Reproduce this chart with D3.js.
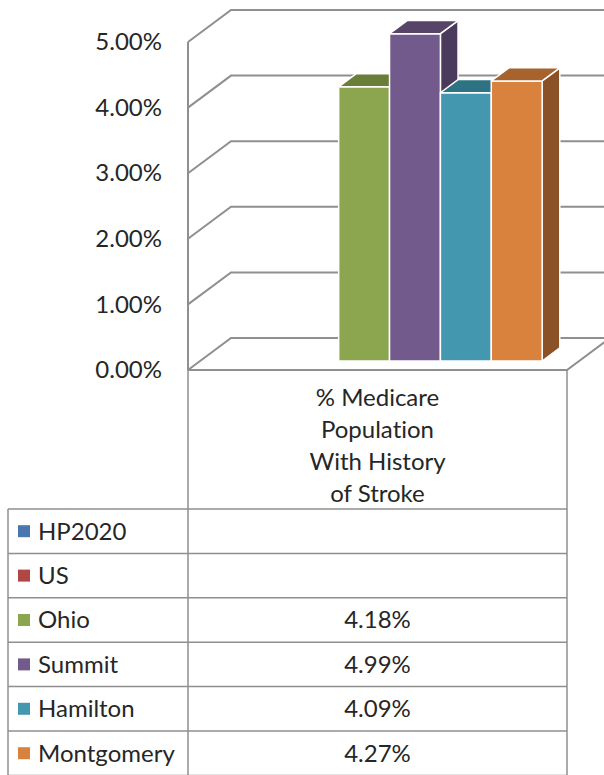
<!DOCTYPE html>
<html>
<head>
<meta charset="utf-8">
<script src="https://cdn.jsdelivr.net/npm/d3@7"></script>
<style>
  body { margin: 0; background: #fff; }
  svg { display: block; font-family: Lato, "Open Sans", sans-serif; font-variant-ligatures: none; }
  text { fill: #262626; }
</style>
</head>
<body>
<div id="chart"></div>
<script>
// Values
var category = '% Medicare Population With History of Stroke';
var categoryLines = ['% Medicare', 'Population', 'With History', 'of Stroke'];
var series = ['HP2020', 'US', 'Ohio', 'Summit', 'Hamilton', 'Montgomery'];
var values = [null, null, 0.0418, 0.0499, 0.0409, 0.0427];
var yTicks = [0, 0.01, 0.02, 0.03, 0.04, 0.05];

// Face colours per series: front, top, side
var frontColors = ['#4a76ae', '#b14643', '#8ba64f', '#735a8c', '#4398b0', '#d9823d'];
var topColors = ['#385a85', '#873532', '#6a7d39', '#574468', '#2e7383', '#a6632e'];
var sideColors = ['#2c476a', '#6c2a28', '#55652e', '#4a3a5c', '#255e6b', '#8a5226'];

var width = 604, height = 775;
var gridColor = '#8f8f8f';
var fontSize = 24;

// oblique projection of the depth axis
var depthX = 43, depthY = -32;
var barZ0 = 0.28, barZ1 = 0.69;

var svg = d3.select('#chart').append('svg')
  .attr('width', width)
  .attr('height', height);

var yScale = d3.scaleLinear().domain([0, 0.05]).range([370, 42]);

var categoryScale = d3.scaleBand().domain([category]).range([188, 567]);

var seriesScale = d3.scaleBand()
  .domain(series)
  .range([categoryScale(category), categoryScale(category) + categoryScale.bandwidth()])
  .paddingInner(0)
  .paddingOuter(0.725);

function project(x, v, z) {
  return [x + depthX * z, yScale(v) + depthY * z];
}

function pts(list) { return list.map(function (p) { return p.join(','); }).join(' '); }

var x0 = categoryScale.range()[0], x1 = categoryScale.range()[1];

// walls and floor
var walls = svg.append('g').attr('class', 'walls')
  .attr('fill', 'none')
  .attr('stroke', gridColor)
  .attr('stroke-width', 2);

yTicks.forEach(function (t) {
  walls.append('polyline')
    .attr('points', pts([project(x0, t, 0), project(x0, t, 1), project(x1, t, 1)]));
});

// left wall front edge
walls.append('line')
  .attr('x1', x0).attr('x2', x0)
  .attr('y1', yScale(0.05)).attr('y2', yScale(0));

// floor front and right edges
walls.append('polyline')
  .attr('points', pts([project(x0, 0, 0), project(x1, 0, 0), project(x1, 0, 1)]));

// bars
var barData = series.map(function (s, i) { return { name: s, value: values[i], i: i }; })
  .filter(function (d) { return d.value != null; });

var bars = svg.append('g').attr('class', 'bars')
  .selectAll('g')
  .data(barData)
  .join('g')
  .attr('stroke', '#fff')
  .attr('stroke-width', 1.5)
  .attr('stroke-linejoin', 'round');

bars.each(function (d) {
  var g = d3.select(this);
  var bx0 = seriesScale(d.name), bx1 = bx0 + seriesScale.bandwidth();
  // side
  g.append('polygon')
    .attr('fill', sideColors[d.i])
    .attr('points', pts([project(bx1, 0, barZ0), project(bx1, d.value, barZ0),
      project(bx1, d.value, barZ1), project(bx1, 0, barZ1)]));
  // front
  g.append('polygon')
    .attr('fill', frontColors[d.i])
    .attr('points', pts([project(bx0, 0, barZ0), project(bx0, d.value, barZ0),
      project(bx1, d.value, barZ0), project(bx1, 0, barZ0)]));
  // top
  g.append('polygon')
    .attr('fill', topColors[d.i])
    .attr('points', pts([project(bx0, d.value, barZ0), project(bx0, d.value, barZ1),
      project(bx1, d.value, barZ1), project(bx1, d.value, barZ0)]));
});

// value axis labels
var yAxis = svg.append('g')
  .attr('transform', 'translate(' + x0 + ',0)')
  .call(d3.axisLeft(yScale).tickValues(yTicks).tickSize(0).tickPadding(26).tickFormat(d3.format('.2%')));
yAxis.select('.domain').remove();
yAxis.selectAll('text')
  .attr('font-family', 'Lato, "Open Sans", sans-serif')
  .attr('font-size', fontSize)
  .attr('fill', '#262626');

// data table
var tableLeft = 8, tableTop = 509, rowH = 44.4;
var tableBottom = tableTop + rowH * series.length;
var rowScale = d3.scaleBand().domain(series).range([tableTop, tableBottom]);

var table = svg.append('g').attr('class', 'table');
var lines = table.append('g')
  .attr('stroke', gridColor)
  .attr('stroke-width', 1.5)
  .attr('fill', 'none');

lines.append('line').attr('x1', x0).attr('x2', x0).attr('y1', yScale(0)).attr('y2', tableBottom);
lines.append('line').attr('x1', x1).attr('x2', x1).attr('y1', yScale(0)).attr('y2', tableBottom);
lines.append('line').attr('x1', tableLeft).attr('x2', tableLeft).attr('y1', tableTop).attr('y2', tableBottom);
series.forEach(function (s) {
  lines.append('line')
    .attr('x1', tableLeft).attr('x2', x1)
    .attr('y1', rowScale(s)).attr('y2', rowScale(s));
});
lines.append('line')
  .attr('x1', tableLeft).attr('x2', x1)
  .attr('y1', tableBottom).attr('y2', tableBottom);

// category header text
var cx = categoryScale(category) + categoryScale.bandwidth() / 2;
table.append('text')
  .attr('text-anchor', 'middle')
  .attr('font-size', fontSize)
  .selectAll('tspan')
  .data(categoryLines)
  .join('tspan')
  .attr('x', cx)
  .attr('y', function (d, i) { return 398 + i * 32; })
  .attr('dy', '0.35em')
  .text(function (d) { return d; });

var rows = table.append('g').selectAll('g')
  .data(series)
  .join('g')
  .attr('transform', function (d) { return 'translate(0,' + (rowScale(d) + rowScale.bandwidth() / 2) + ')'; });

rows.append('rect')
  .attr('x', 18).attr('y', -6)
  .attr('width', 12).attr('height', 12)
  .attr('fill', function (d, i) { return frontColors[i]; });

rows.append('text')
  .attr('x', 38)
  .attr('dy', '0.35em')
  .attr('font-size', fontSize)
  .text(function (d) { return d; });

rows.append('text')
  .attr('x', cx)
  .attr('dy', '0.35em')
  .attr('text-anchor', 'middle')
  .attr('font-size', fontSize)
  .text(function (d, i) { return values[i] == null ? '' : d3.format('.2%')(values[i]); });
</script>
</body>
</html>
